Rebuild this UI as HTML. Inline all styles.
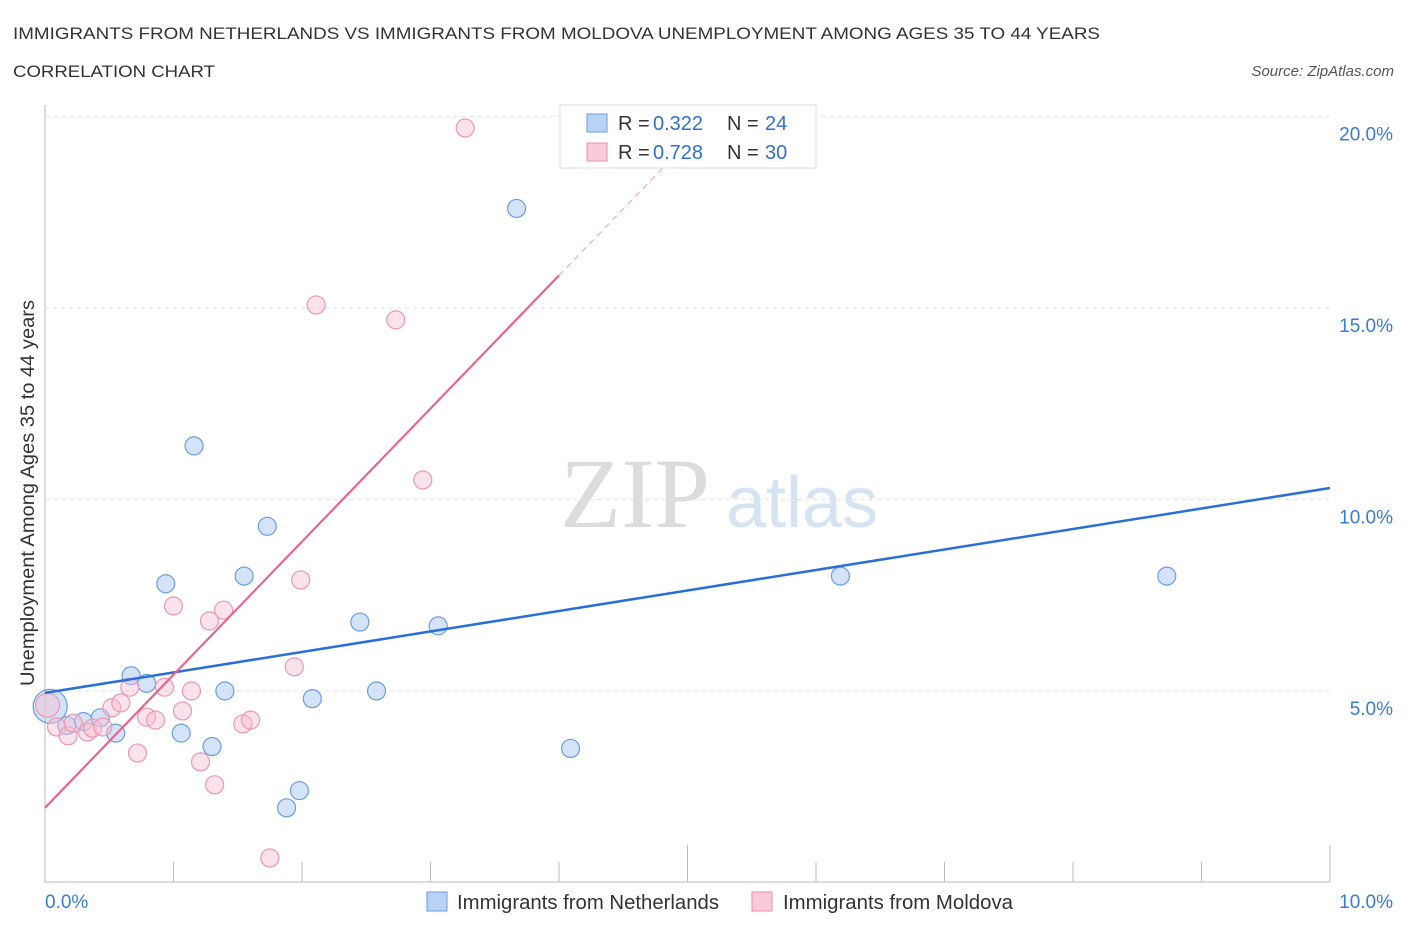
<!DOCTYPE html>
<html><head><meta charset="utf-8"><style>
body{margin:0;background:#fff;font-family:"Liberation Sans",sans-serif;}
</style></head><body>
<svg id="c" width="1406" height="930" font-family="Liberation Sans, sans-serif">
<text x="13" y="39" font-size="17" fill="#333" textLength="1087" lengthAdjust="spacingAndGlyphs">IMMIGRANTS FROM NETHERLANDS VS IMMIGRANTS FROM MOLDOVA UNEMPLOYMENT AMONG AGES 35 TO 44 YEARS</text>
<text x="13" y="77" font-size="17" fill="#333" textLength="202" lengthAdjust="spacingAndGlyphs">CORRELATION CHART</text>
<text x="1394" y="76" font-size="15" fill="#555" font-style="italic" text-anchor="end">Source: ZipAtlas.com</text>
<text x="635" y="527" font-size="100" fill="#dcdcdc" style="font-family:'Liberation Serif',serif" text-anchor="middle">ZIP</text>
<text x="802" y="527" font-size="72" fill="#d6e3f3" text-anchor="middle">atlas</text>
<text transform="translate(34,493) rotate(-90)" font-size="19" fill="#333" text-anchor="middle" textLength="386" lengthAdjust="spacingAndGlyphs">Unemployment Among Ages 35 to 44 years</text>
<g id="grid"></g><g id="marks"></g>
<g>
<rect x="560" y="105" width="256" height="63" fill="#fff" stroke="#ddd"/>
<rect x="587" y="114" width="20" height="18" fill="#b9d3f5" stroke="#6a9ee0"/>
<rect x="587" y="143" width="20" height="18" fill="#f9cad8" stroke="#ea8fab"/>
<text x="618" y="130" font-size="20" fill="#333">R =</text><text x="653" y="130" font-size="20" fill="#2f6fd0">0.322</text>
<text x="727" y="130" font-size="20" fill="#333">N =</text><text x="765" y="130" font-size="20" fill="#2f6fd0">24</text>
<text x="618" y="159" font-size="20" fill="#333">R =</text><text x="653" y="159" font-size="20" fill="#2f6fd0">0.728</text>
<text x="727" y="159" font-size="20" fill="#333">N =</text><text x="765" y="159" font-size="20" fill="#2f6fd0">30</text>
</g>
<g>
<rect x="427" y="892" width="20" height="19" fill="#b9d3f5" stroke="#6a9ee0"/>
<text x="457" y="909" font-size="20" fill="#333" textLength="262" lengthAdjust="spacingAndGlyphs">Immigrants from Netherlands</text>
<rect x="752" y="892" width="20" height="19" fill="#f9cad8" stroke="#ea8fab"/>
<text x="783" y="909" font-size="20" fill="#333" textLength="230" lengthAdjust="spacingAndGlyphs">Immigrants from Moldova</text>
</g>
</svg>
<script>
const yTicks=[5,10,15,20];
const xTickLabels=["0.0%","10.0%"];
const nlX=[0.04,0.17,0.30,0.43,0.55,0.67,0.79,0.94,1.06,1.16,1.30,1.40,1.55,1.73,1.88,1.98,2.08,2.45,2.58,3.06,3.67,4.09,6.19,8.73];
const nlY=[4.6,4.1,4.2,4.3,3.9,5.4,5.2,7.8,3.9,11.4,3.55,5.0,8.0,9.3,1.95,2.4,4.8,6.8,5.0,6.7,17.6,3.5,8.0,8.0];
const mdX=[0.02,0.09,0.18,0.33,0.37,0.45,0.22,0.52,0.59,0.66,0.72,0.79,0.86,0.93,1.00,1.07,1.14,1.21,1.28,1.32,1.39,1.54,1.60,1.75,1.94,1.99,2.11,2.73,2.94,3.27];
const mdY=[4.63,4.06,3.83,3.93,4.03,4.06,4.16,4.56,4.69,5.1,3.38,4.32,4.24,5.1,7.22,4.48,5.0,3.15,6.83,2.55,7.11,4.14,4.24,0.64,5.63,7.9,15.08,14.69,10.51,19.7];
const nlFit=[4.95,10.3];
const mdFit=[1.95,15.85];
const sx=v=>45+v*128.5, sy=v=>882.5-v*38.3;
const NS="http://www.w3.org/2000/svg";
function mk(t,a,p){const e=document.createElementNS(NS,t);for(const k in a)e.setAttribute(k,a[k]);p.appendChild(e);return e;}
const g=document.getElementById('grid'),m=document.getElementById('marks');
mk('line',{x1:45,y1:105,x2:45,y2:882,stroke:'#bbb'},g);
mk('line',{x1:45,y1:882,x2:1330,y2:882,stroke:'#bbb'},g);
for(let i=0;i<=10;i++){const x=sx(i);const tk=mk('line',{x1:x,y1:(i%5==0)?845:862,x2:x,y2:882,stroke:'#bbb'},g);

}
mk('line',{x1:45,y1:sy(20),x2:1330,y2:sy(20),stroke:'#e3e3e3','stroke-dasharray':'4,4'},g);
yTicks.forEach(v=>{const l=mk('line',{x1:45,y1:sy(v),x2:1330,y2:sy(v),stroke:'#e3e3e3','stroke-dasharray':'4,4'},g);


const t=mk('text',{x:1393,y:sy(v)+24,'font-size':19,fill:'#3a7bd5','text-anchor':'end'},g);t.textContent=v.toFixed(1)+'%';

});
xTickLabels.forEach((s,i)=>{const t=mk('text',{x:i?1393:45,y:908,'font-size':19,fill:'#3a7bd5','text-anchor':i?'end':'start'},g);t.textContent=s;

});
nlX.forEach((x,i)=>{const c=mk('circle',{cx:sx(x),cy:sy(nlY[i]),r:i==0?17:9,fill:'rgba(170,200,242,0.5)',stroke:'#6a9ee0','stroke-width':1.2},m);

});
mdX.forEach((x,i)=>{const c=mk('circle',{cx:sx(x),cy:sy(mdY[i]),r:i==0?12:9,fill:'rgba(248,190,208,0.45)',stroke:'#ea98b2','stroke-width':1.2},m);

});
const bl=mk('line',{x1:sx(0),y1:sy(nlFit[0]),x2:sx(10),y2:sy(nlFit[1]),stroke:'#2a6fd6','stroke-width':2.5},m);


const pl=mk('line',{x1:sx(0),y1:sy(mdFit[0]),x2:sx(4),y2:sy(mdFit[1]),stroke:'#e8668f','stroke-width':2.2},m);


const slope=(mdFit[1]-mdFit[0])/4;
const pd=mk('line',{x1:sx(4),y1:sy(mdFit[1]),x2:sx(4.85),y2:sy(mdFit[0]+slope*4.85),stroke:'#e8a0b8','stroke-width':1,'stroke-dasharray':'6,5'},m);


</script>
</body></html>
